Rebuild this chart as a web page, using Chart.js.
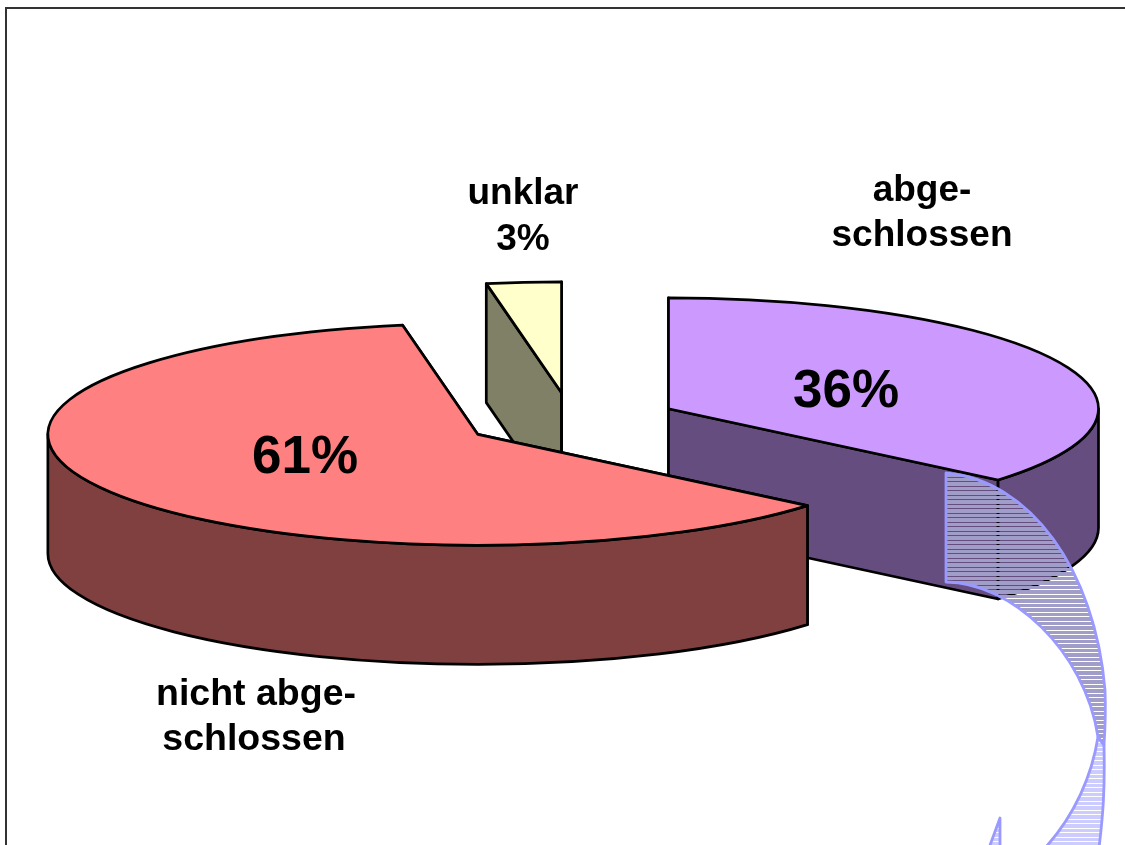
<!DOCTYPE html>
<html>
<head>
<meta charset="utf-8">
<style>html,body{margin:0;padding:0;background:#fff;overflow:hidden}canvas{display:block}</style>
<script src="https://cdn.jsdelivr.net/npm/chart.js@4/dist/chart.umd.min.js"></script>
</head>
<body>
<canvas id="c" width="1125" height="845"></canvas>
<script>
const categories = ["abgeschlossen", "nicht abgeschlossen", "unklar"];
const values = [36.1, 61.1, 2.8];
const topColors = ["#CC99FF", "#FF8080", "#FFFFCC"];
const sideColors = ["#664D80", "#804040", "#808066"];
const paintOrder = [2, 0, 1];
const TILT = 0.258, DEPTH = 119, EXPLODE = 107.6;

const pie3d = {
  id: "pie3d",
  beforeDatasetsDraw(chart) {
    const ctx = chart.ctx;
    const arcs = chart.getDatasetMeta(0).data;
    // frame
    ctx.save();
    ctx.strokeStyle = "#333";
    ctx.lineWidth = 2;
    ctx.beginPath();
    ctx.moveTo(6, 845); ctx.lineTo(6, 8); ctx.lineTo(1125, 8);
    ctx.stroke();
    ctx.lineWidth = 2.7;
    ctx.lineJoin = "round";
    ctx.strokeStyle = "#000";
    paintOrder.forEach(i => {
      const arc = arcs[i];
      const a0 = arc.startAngle, a1 = arc.endAngle, r = arc.outerRadius;
      const mid = (a0 + a1) / 2, off = arc.options.offset;
      const cx = arc.x + Math.cos(mid) * off;
      const cy = arc.y + Math.sin(mid) * off * TILT + 0.5;
      const rim = a => [cx + Math.cos(a) * r, cy + Math.sin(a) * r * TILT];
      const face = a => {
        const [x, y] = rim(a);
        ctx.beginPath();
        ctx.moveTo(cx, cy); ctx.lineTo(x, y);
        ctx.lineTo(x, y + DEPTH); ctx.lineTo(cx, cy + DEPTH);
        ctx.closePath();
        ctx.fillStyle = sideColors[i];
        ctx.fill(); ctx.stroke();
      };
      face(a0); face(a1);
      // front-facing rim: canvas angles whose sine is positive
      [[0, Math.PI], [2 * Math.PI, 3 * Math.PI]].forEach(([lo, hi]) => {
        const s = Math.max(a0, lo), e = Math.min(a1, hi);
        if (e <= s) return;
        ctx.beginPath();
        ctx.ellipse(cx, cy, r, r * TILT, 0, s, e);
        ctx.ellipse(cx, cy + DEPTH, r, r * TILT, 0, e, s, true);
        ctx.closePath();
        ctx.fillStyle = sideColors[i];
        ctx.fill(); ctx.stroke();
      });
      ctx.beginPath();
      ctx.moveTo(cx, cy);
      ctx.ellipse(cx, cy, r, r * TILT, 0, a0, a1);
      ctx.closePath();
      ctx.fillStyle = topColors[i];
      ctx.fill(); ctx.stroke();
    });
    ctx.restore();
    drawRibbon(ctx);
    drawLabels(ctx);
    return false;
  }
};

function hatch(ctx, path, color, y0, y1) {
  ctx.save();
  ctx.beginPath();
  path(ctx);
  ctx.clip();
  ctx.fillStyle = color;
  for (let y = y0; y < y1; y += 4.5) {
    const a = Math.round(y), b = Math.round(y + 4.5);
    ctx.fillRect(930, a, 195, b - a - 1);
  }
  ctx.restore();
}

function drawRibbon(ctx) {
  const upper = c => {
    c.moveTo(946, 473);
    c.bezierCurveTo(1030, 480, 1095, 570, 1105, 690);
    c.bezierCurveTo(1106, 715, 1105, 730, 1104, 745);
    c.lineTo(1098, 737);
    c.bezierCurveTo(1085, 650, 1010, 582, 946, 582);
    c.closePath();
  };
  const lower = c => {
    c.moveTo(1098, 737);
    c.lineTo(1104, 745);
    c.bezierCurveTo(1105, 790, 1103, 815, 1099, 848);
    c.lineTo(1045, 848);
    c.bezierCurveTo(1075, 815, 1092, 775, 1098, 737);
    c.closePath();
  };
  const tail = c => {
    c.moveTo(1000, 818);
    c.lineTo(1000, 848);
    c.lineTo(989, 848);
    c.closePath();
  };
  hatch(ctx, upper, "#A19DC9", 473, 750);
  hatch(ctx, lower, "#CCCCFF", 473, 850);
  hatch(ctx, tail, "#CCCCFF", 473, 850);
  ctx.save();
  ctx.strokeStyle = "#9999FF";
  ctx.lineWidth = 2.8;
  ctx.lineJoin = "round";
  [upper, lower, tail].forEach(p => { ctx.beginPath(); p(ctx); ctx.stroke(); });
  ctx.restore();
}

function drawLabels(ctx) {
  const pct = values.map(v => Math.round(v) + "%");
  const put = (t, x, y, size) => {
    ctx.font = "bold " + size + "px 'Liberation Sans', Arial, sans-serif";
    ctx.fillText(t, x, y);
  };
  ctx.save();
  ctx.fillStyle = "#000";
  ctx.textAlign = "center";
  ctx.textBaseline = "alphabetic";
  put("unklar", 523, 204, 37);
  put(pct[2], 523, 250, 37);
  put("abge-", 922, 201, 37);
  put("schlossen", 922, 246, 37);
  put("nicht abge-", 256, 705, 37.5);
  put("schlossen", 254, 750, 37.5);
  put(pct[0], 846, 407, 53);
  put(pct[1], 305, 473, 53);
  ctx.restore();
}

new Chart(document.getElementById("c"), {
  type: "pie",
  data: {
    labels: categories,
    datasets: [{ data: values, backgroundColor: topColors, offset: EXPLODE, borderWidth: 0, radius: 430 }]
  },
  options: {
    responsive: false,
    animation: false,
    radius: 430,
    layout: { padding: { left: 17, bottom: 5 } },
    plugins: { legend: { display: false }, tooltip: { enabled: false } }
  },
  plugins: [pie3d]
});
</script>
</body>
</html>
